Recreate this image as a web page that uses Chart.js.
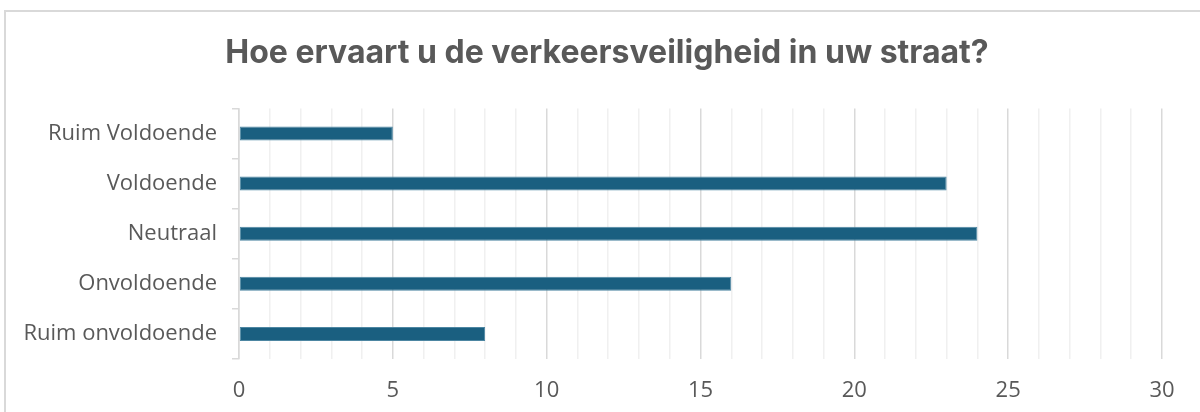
<!DOCTYPE html>
<html>
<head>
<meta charset="utf-8">
<script src="https://cdn.jsdelivr.net/npm/chart.js"></script>
<style>
    html, body { margin: 0; padding: 0; background: #fff; }
    body { width: 1200px; height: 412px; overflow: hidden; position: relative; }
    #frame {
        position: absolute; left: 4px; top: 10px; width: 1200px; height: 410px;
        border-left: 2px solid #d9d9d9; border-top: 2px solid #d9d9d9;
    }
    #wrap { position: absolute; left: 0; top: 0; width: 1200px; height: 412px; }
</style>
</head>
<body>
<div id="frame"></div>
<div id="wrap"><canvas id="chart"></canvas></div>
<script>
const categories = ['Ruim Voldoende', 'Voldoende', 'Neutraal', 'Onvoldoende', 'Ruim onvoldoende'];
const values = [5, 23, 24, 16, 8];
const xMax = 30;
const titleText = 'Hoe ervaart u de verkeersveiligheid in uw straat?';

const textColor = '#595959';
const titleFont = "Inter, 'Open Sans', sans-serif";
const labelFont = "'Open Sans', sans-serif";

const ctx = document.getElementById('chart').getContext('2d');

// centre the title over the whole frame instead of the padded layout
const shiftTitle = {
    id: 'shiftTitle',
    afterLayout(chart) {
        const t = chart.titleBlock;
        if (t) { t.left += 26; t.right += 26; }
    }
};

new Chart(ctx, {
    type: 'bar',
    data: {
        labels: categories,
        datasets: [{
            data: values,
            backgroundColor: '#1a5f80',
            borderColor: '#4d86a2',
            borderWidth: 1,
            borderSkipped: false,
            barPercentage: 0.35,
            categoryPercentage: 0.8
        }]
    },
    options: {
        indexAxis: 'y',
        responsive: true,
        maintainAspectRatio: false,
        animation: false,
        layout: { padding: { top: 10, right: 38, bottom: 0, left: 0 } },
        plugins: {
            legend: { display: false },
            tooltip: { enabled: false },
            title: {
                display: true,
                text: titleText,
                color: textColor,
                font: { family: titleFont, size: 32, weight: 'bold', lineHeight: 1.2 },
                padding: { top: 24, bottom: 36 }
            }
        },
        scales: {
            x: {
                min: 0,
                max: xMax,
                ticks: {
                    stepSize: 1,
                    autoSkip: false,
                    maxRotation: 0,
                    color: textColor,
                    font: { family: labelFont, size: 22 },
                    padding: 19,
                    callback: (v) => (v % 5 === 0 ? v : '')
                },
                grid: {
                    drawTicks: false,
                    lineWidth: 1.5,
                    color: (c) => (c.tick && c.tick.value % 5 === 0 ? '#d9d9d9' : '#f0f0f0')
                },
                border: { display: false },
                afterFit: (scale) => { scale.height = 53; }
            },
            y: {
                ticks: {
                    color: textColor,
                    font: { family: labelFont, size: 22 },
                    padding: 15
                },
                grid: {
                    drawOnChartArea: false,
                    drawTicks: true,
                    tickLength: 7,
                    color: '#d9d9d9',
                    lineWidth: 1.5
                },
                border: { display: true, color: '#d9d9d9', width: 1.5 },
                afterFit: (scale) => { scale.width = 239; }
            }
        }
    },
    plugins: [shiftTitle]
});
</script>
</body>
</html>
